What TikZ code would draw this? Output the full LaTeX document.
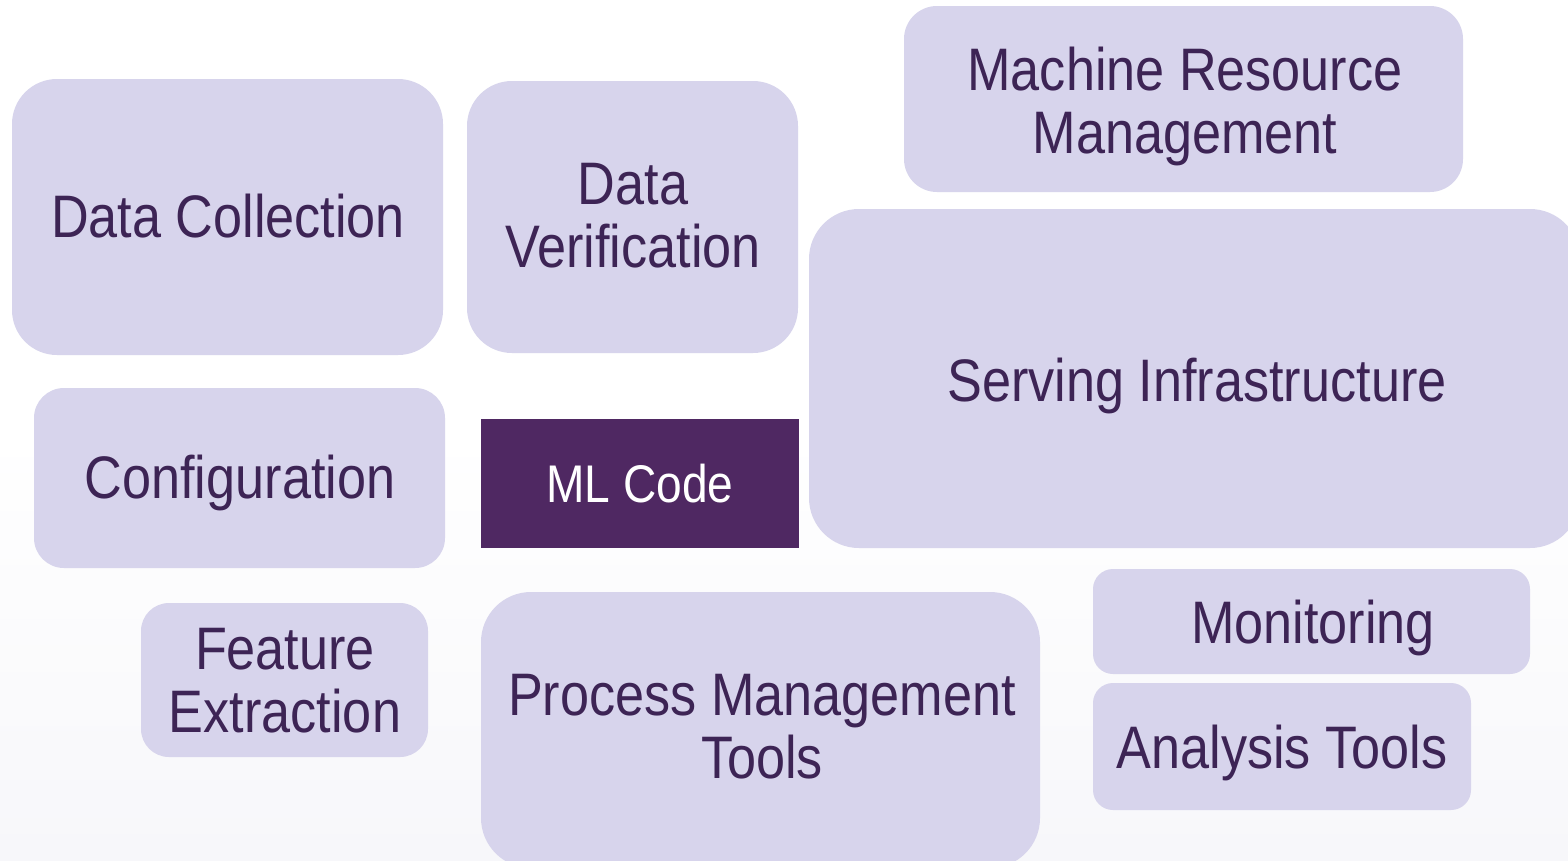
\documentclass[tikz,border=0pt]{standalone}
\usepackage{fontspec}
\setmainfont{Liberation Sans}[FakeStretch=0.87]
\definecolor{boxfill}{HTML}{D7D4EC}
\definecolor{txt}{HTML}{3D2455}
\definecolor{mlfill}{HTML}{4F2862}
\definecolor{bgbot}{HTML}{F7F7FA}
\tikzset{
  lbox/.style={fill=boxfill, draw=none, inner sep=0pt},
  mlbox/.style={fill=mlfill, draw=none, inner sep=0pt},
  ltext/.style={text=txt, inner sep=0pt, align=center,
    font=\fontsize{60}{63}\selectfont},
  mltext/.style={text=white, inner sep=0pt, align=center,
    font=\fontsize{53}{63}\selectfont}
}
\begin{document}
\begin{tikzpicture}[x=1pt,y=-1pt]
\useasboundingbox (0,0) rectangle (1568,860);
\shade[top color=white, bottom color=bgbot, middle color=white] (0,0) rectangle (1568,860);
\begin{scope}
\clip (0,0) rectangle (1568,860);
\node[lbox, rounded corners=45pt, minimum width=431pt, minimum height=276pt] (dc) at (227.5,217) {};
\node[lbox, rounded corners=45pt, minimum width=331pt, minimum height=272pt] (dv) at (632.5,217) {};
\node[lbox, rounded corners=33pt, minimum width=559pt, minimum height=186pt] (mrm) at (1183.5,99) {};
\node[lbox, rounded corners=50pt, minimum width=771pt, minimum height=339pt] (si) at (1194.5,378.5) {};
\node[lbox, rounded corners=30pt, minimum width=411pt, minimum height=180pt] (cfg) at (239.5,478) {};
\node[mlbox, minimum width=318pt, minimum height=129pt] (ml) at (640,483.5) {};
\node[lbox, rounded corners=28pt, minimum width=287pt, minimum height=154pt] (fe) at (284.5,680) {};
\node[lbox, rounded corners=50pt, minimum width=559pt, minimum height=276pt] (pm) at (760.5,730) {};
\node[lbox, rounded corners=20pt, minimum width=437pt, minimum height=105pt] (mon) at (1311.5,621.5) {};
\node[lbox, rounded corners=20pt, minimum width=378pt, minimum height=127pt] (at) at (1282,746.5) {};
\end{scope}
\node[ltext] (dct) at (228,216) {Data Collection};
\node[ltext] (dvt) at (633,216) {Data\\Verification};
\node[ltext] (mrmt) at (1185,106) {Machine Resource\\Management};
\node[ltext] (sit) at (1197,386) {Serving Infrastructure};
\node[ltext] (cfgt) at (240,483) {Configuration};
\node[mltext] (mlt) at (640,483.5) {ML Code};
\node[ltext] (fet) at (285,680.5) {Feature\\Extraction};
\node[ltext] (pmt) at (762,727) {Process Management\\Tools};
\node[ltext] (mont) at (1313,628) {Monitoring};
\node[ltext] (att) at (1282,753) {Analysis Tools};
\end{tikzpicture}
\end{document}
